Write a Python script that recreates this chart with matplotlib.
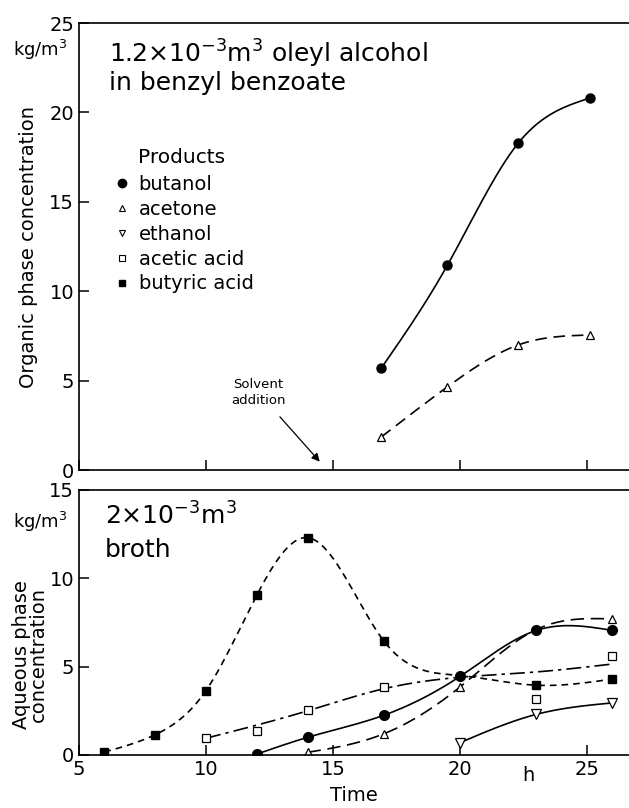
import numpy as np
import matplotlib
matplotlib.use("Agg")
import matplotlib.pyplot as plt
from matplotlib.lines import Line2D

# organic phase (top panel)
org_time = [16.9, 19.5, 22.3, 25.1]
org_butanol = [5.7, 11.45, 18.3, 20.8]
org_acetone = [1.85, 4.65, 7.0, 7.55]

# aqueous phase (bottom panel); the 20 h butyric acid and 23 h acetone
# points sit under the butanol circles
butyric_t = [6, 8, 10, 12, 14, 17, 20, 23, 26]
butyric_y = [0.17, 1.15, 3.65, 9.05, 12.3, 6.45, 4.5, 3.95, 4.3]
acetic_t = [10, 12, 14, 17, 23, 26]
acetic_y = [0.96, 1.35, 2.55, 3.85, 3.15, 5.6]
# smoothed trend line drawn through the acetic acid points
acetic_fit_t = [10, 14, 17, 20, 23, 26]
acetic_fit_y = [0.95, 2.5, 3.75, 4.4, 4.7, 5.15]
butanol_t = [12, 14, 17, 20, 23, 26]
butanol_y = [0.05, 1.0, 2.25, 4.45, 7.05, 7.05]
acetone_t = [14, 17, 20, 23, 26]
acetone_y = [0.15, 1.2, 3.85, 7.1, 7.7]
ethanol_t = [20, 23, 26]
ethanol_y = [0.7, 2.3, 2.95]

legend_names = ["butanol", "acetone", "ethanol", "acetic acid", "butyric acid"]


def smooth(x, y, n=300):
    # natural cubic spline through the points
    x = np.asarray(x, float)
    y = np.asarray(y, float)
    k = len(x)
    if k < 3:
        return x, y
    h = np.diff(x)
    A = np.zeros((k, k))
    b = np.zeros(k)
    A[0, 0] = A[-1, -1] = 1
    for i in range(1, k - 1):
        A[i, i - 1] = h[i - 1]
        A[i, i] = 2 * (h[i - 1] + h[i])
        A[i, i + 1] = h[i]
        b[i] = 6 * ((y[i + 1] - y[i]) / h[i] - (y[i] - y[i - 1]) / h[i - 1])
    M = np.linalg.solve(A, b)
    xs = np.linspace(x[0], x[-1], n)
    idx = np.clip(np.searchsorted(x, xs) - 1, 0, k - 2)
    x0, x1 = x[idx], x[idx + 1]
    hi = h[idx]
    ys = (M[idx] * (x1 - xs) ** 3 / (6 * hi) + M[idx + 1] * (xs - x0) ** 3 / (6 * hi)
          + (y[idx] / hi - M[idx] * hi / 6) * (x1 - xs)
          + (y[idx + 1] / hi - M[idx + 1] * hi / 6) * (xs - x0))
    return xs, ys


plt.rcParams["font.family"] = "DejaVu Sans"
fig = plt.figure(figsize=(6.29, 8.08), dpi=100)
ax1 = fig.add_axes([0.1256, 0.4183, 0.8744, 0.5532])
ax2 = fig.add_axes([0.1256, 0.0656, 0.8744, 0.3280])

lw = 1.2
ms_circle = 6.5
ms_small = 5.5

for ax in (ax1, ax2):
    ax.set_xlim(5, 26.65)
    ax.spines["right"].set_visible(False)
    for s in ax.spines.values():
        s.set_linewidth(1.2)
    ax.tick_params(direction="in", length=7, width=1.1, labelsize=14,
                   right=False, top=False)
    ax.set_xticks([5, 10, 15, 20, 25])

# top panel
ax1.set_ylim(0, 25)
ax1.set_yticks([0, 5, 10, 15, 20, 25])
ax1.tick_params(axis="x", labelbottom=False)
ax1.plot(*smooth(org_time, org_butanol), color="black", lw=lw)
ax1.plot(*smooth(org_time, org_acetone), color="black", lw=lw, dashes=(7, 4))
ax1.plot(org_time, org_butanol, "o", color="black", ms=ms_circle)
ax1.plot(org_time, org_acetone, "^", mfc="white", mec="black", mew=0.9, ms=ms_small)
ax1.set_ylabel("Organic phase concentration", fontsize=14, labelpad=8)
ax1.text(-0.02, 0.94, "kg/m$^3$", transform=ax1.transAxes, ha="right",
         va="center", fontsize=13)
ax1.text(0.055, 0.9105, r"1.2$\times$10$^{-3}$m$^3$ oleyl alcohol",
         transform=ax1.transAxes, fontsize=18, va="baseline")
ax1.text(0.055, 0.850, "in benzyl benzoate", transform=ax1.transAxes,
         fontsize=18, va="baseline")
ax1.text(0.107, 0.70, "Products", transform=ax1.transAxes, fontsize=14.5,
         va="center")
handles = [
    Line2D([], [], ls="none", marker="o", color="black", ms=6),
    Line2D([], [], ls="none", marker="^", mfc="white", mec="black", ms=5, mew=0.8),
    Line2D([], [], ls="none", marker="v", mfc="white", mec="black", ms=5, mew=0.8),
    Line2D([], [], ls="none", marker="s", mfc="white", mec="black", ms=4.5, mew=0.8),
    Line2D([], [], ls="none", marker="s", color="black", ms=5),
]
ax1.legend(handles, legend_names, loc="upper left", bbox_to_anchor=(0.064, 0.66),
           frameon=False, fontsize=14, handlelength=0.8, handletextpad=0.45,
           labelspacing=0.3, borderpad=0, borderaxespad=0)
ax1.annotate("Solvent\naddition", xy=(14.55, 0.35), xytext=(12.05, 4.35),
             ha="center", va="center", fontsize=9.5, linespacing=1.3,
             arrowprops=dict(arrowstyle="-|>", color="black", lw=0.9,
                             mutation_scale=12, shrinkA=7))

# bottom panel
ax2.set_ylim(0, 15)
ax2.set_yticks([0, 5, 10, 15])
ax2.set_xticklabels(["5", "10", "15", "20", "25"])
ax2.plot(*smooth(butyric_t, butyric_y), color="black", lw=lw, dashes=(4, 3))
ax2.plot(*smooth(acetic_fit_t, acetic_fit_y), color="black", lw=lw,
         dashes=(9, 3, 2, 3))
ax2.plot(*smooth(butanol_t, butanol_y), color="black", lw=lw)
ax2.plot(*smooth(acetone_t, acetone_y), color="black", lw=lw, dashes=(8, 4))
ax2.plot(*smooth(ethanol_t, ethanol_y), color="black", lw=lw)
# markers hidden under the butanol circles are not drawn
ax2.plot(butyric_t, butyric_y, "s", color="black", ms=5.5,
         markevery=[i for i, t in enumerate(butyric_t) if t != 20])
ax2.plot(acetic_t, acetic_y, "s", mfc="white", mec="black", mew=0.9, ms=5.5)
ax2.plot(acetone_t, acetone_y, "^", mfc="white", mec="black", mew=0.9, ms=ms_small,
         markevery=[i for i, t in enumerate(acetone_t) if t != 23])
ax2.plot(ethanol_t, ethanol_y, "v", mfc="white", mec="black", mew=0.9, ms=ms_small + 1)
ax2.plot(butanol_t, butanol_y, "o", color="black", ms=ms_circle + 0.5)
ax2.text(22.7, -0.65, "h", ha="center", va="top", fontsize=14)
ax2.set_xlabel("Time", fontsize=14, labelpad=5)
ax2.set_ylabel("Aqueous phase\nconcentration", fontsize=14, linespacing=0.9)
ax2.yaxis.set_label_coords(-0.056, 0.38)
ax2.text(-0.02, 0.879, "kg/m$^3$", transform=ax2.transAxes, ha="right",
         va="center", fontsize=13)
ax2.text(0.047, 0.868, r"2$\times$10$^{-3}$m$^3$", transform=ax2.transAxes,
         fontsize=18, va="baseline")
ax2.text(0.047, 0.747, "broth", transform=ax2.transAxes, fontsize=18,
         va="baseline")

fig.savefig("out.png", dpi=100)
